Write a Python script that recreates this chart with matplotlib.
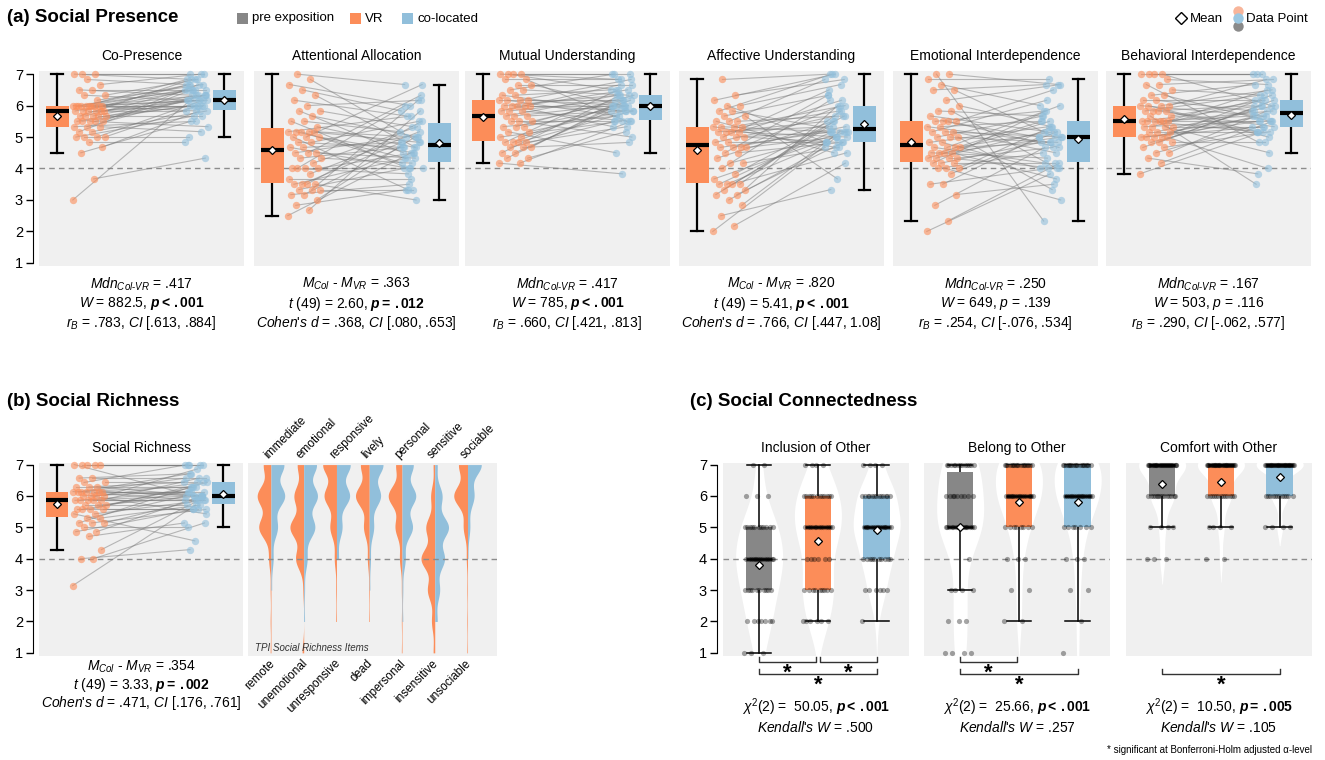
import numpy as np
import matplotlib.pyplot as plt
import matplotlib.transforms as mtransforms
from matplotlib.patches import Rectangle
from matplotlib.lines import Line2D

plt.rcParams['font.family'] = ['Liberation Sans', 'DejaVu Sans']
plt.rcParams['mathtext.fontset'] = 'custom'
plt.rcParams['mathtext.rm'] = 'Liberation Sans'
plt.rcParams['mathtext.it'] = 'Liberation Sans:italic'
plt.rcParams['mathtext.bf'] = 'Liberation Sans:bold'
plt.rcParams['mathtext.bfit'] = 'Liberation Sans:bold:italic'

# colours
c_pre = '#878787'
c_vr = '#fc8d59'
c_col = '#91bfdb'
c_bg = '#f0f0f0'

W, H = 1325, 760

# ---------------- (a) Social Presence, paired ratings (VR vs co-located), n = 50
sp_titles = ['Co-Presence', 'Attentional Allocation', 'Mutual Understanding',
             'Affective Understanding', 'Emotional Interdependence', 'Behavioral Interdependence']

copresence_vr = [3.0, 3.67, 4.5, 4.67, 4.83, 5.0, 5.0, 5.0, 5.0, 5.17, 5.17, 5.33, 5.33, 5.33, 5.5, 5.5, 5.5, 5.5, 5.5, 5.67,
                 5.67, 5.67, 5.67, 5.67, 5.83, 5.83, 5.83, 5.83, 5.83, 5.83, 6.0, 6.0, 6.0, 6.0, 6.0, 6.0, 6.0, 6.0, 6.0, 6.0,
                 6.17, 6.33, 6.33, 6.5, 6.5, 6.67, 6.83, 7.0, 7.0, 7.0]
copresence_col = [6.33, 4.33, 5.5, 5.83, 4.83, 5.67, 6.17, 5.0, 6.0, 5.83, 6.5, 5.17, 6.17, 5.5, 6.33, 6.0, 6.67, 5.33, 6.17, 5.67,
                  6.5, 6.0, 6.33, 6.83, 6.17, 5.83, 6.5, 6.0, 6.67, 6.33, 6.17, 6.5, 6.0, 6.83, 5.83, 6.33, 6.67, 6.17, 6.5, 6.0,
                  6.67, 6.17, 6.83, 6.5, 6.33, 7.0, 6.67, 6.83, 7.0, 7.0]

attention_vr = [2.5, 2.67, 2.83, 3.0, 3.17, 3.17, 3.33, 3.33, 3.33, 3.5, 3.5, 3.5, 3.5, 3.67, 3.83, 4.0, 4.0, 4.0, 4.0, 4.17,
                4.33, 4.33, 4.5, 4.5, 4.5, 4.67, 4.67, 4.83, 4.83, 5.0, 5.0, 5.0, 5.17, 5.17, 5.17, 5.17, 5.17, 5.33, 5.5, 5.5,
                5.67, 5.83, 5.83, 6.0, 6.17, 6.33, 6.5, 6.67, 6.83, 7.0]
attention_col = [4.5, 5.83, 3.33, 5.0, 4.67, 3.5, 6.17, 4.0, 3.33, 5.5, 4.33, 3.0, 4.83, 3.67, 5.17, 6.0, 4.5, 4.0, 3.83, 5.33,
                 4.67, 4.17, 6.33, 5.0, 4.33, 4.83, 4.0, 5.5, 4.67, 4.5, 6.67, 3.33, 5.0, 4.17, 5.67, 4.83, 4.33, 4.67, 5.17, 4.0,
                 5.0, 4.5, 5.33, 6.17, 5.67, 4.67, 5.83, 6.0, 4.83, 6.67]

mutual_vr = [4.17, 4.17, 4.33, 4.33, 4.5, 4.5, 4.67, 4.67, 4.67, 4.83, 4.83, 4.83, 4.83, 5.0, 5.0, 5.17, 5.17, 5.33, 5.33, 5.33,
             5.5, 5.5, 5.5, 5.67, 5.67, 5.67, 5.83, 5.83, 5.83, 6.0, 6.0, 6.0, 6.0, 6.0, 6.17, 6.17, 6.17, 6.17, 6.33, 6.33,
             6.5, 6.5, 6.67, 6.67, 6.83, 6.83, 7.0, 7.0, 7.0, 7.0]
mutual_col = [3.83, 5.5, 6.0, 5.17, 5.83, 6.33, 4.83, 5.5, 6.17, 5.83, 6.5, 5.33, 6.0, 5.5, 6.17, 4.5, 5.83, 6.33, 5.67, 6.0,
              5.5, 6.17, 5.0, 6.33, 5.83, 6.0, 6.67, 5.5, 6.17, 6.0, 5.83, 6.33, 6.5, 5.33, 6.17, 6.83, 5.67, 6.0, 6.5, 5.83,
              6.33, 7.0, 6.0, 6.67, 6.83, 5.5, 7.0, 6.83, 7.0, 6.5]

affective_vr = [2.0, 2.17, 2.5, 2.83, 3.0, 3.17, 3.17, 3.33, 3.33, 3.5, 3.5, 3.5, 3.5, 3.67, 3.83, 4.0, 4.17, 4.17, 4.33, 4.5,
                4.5, 4.67, 4.67, 4.67, 4.67, 4.83, 4.83, 5.0, 5.0, 5.0, 5.17, 5.17, 5.17, 5.17, 5.33, 5.33, 5.33, 5.33, 5.5, 5.5,
                5.5, 5.67, 5.67, 5.83, 5.83, 6.0, 6.0, 6.17, 6.33, 6.83]
affective_col = [5.0, 4.17, 3.33, 5.17, 4.67, 5.5, 4.83, 5.33, 6.0, 4.5, 5.17, 5.83, 4.83, 5.0, 5.67, 6.17, 4.67, 5.17, 5.5, 4.83,
                 6.33, 5.0, 5.33, 5.17, 6.0, 4.83, 5.67, 5.17, 6.5, 4.83, 5.0, 5.33, 6.17, 5.5, 4.67, 6.0, 5.17, 5.83, 6.83, 4.5,
                 5.67, 6.33, 3.67, 5.17, 7.0, 6.67, 4.83, 7.0, 6.83, 7.0]

emotional_vr = [2.0, 2.33, 2.83, 3.17, 3.5, 3.5, 3.83, 4.0, 4.0, 4.0, 4.17, 4.17, 4.17, 4.33, 4.33, 4.33, 4.33, 4.5, 4.5, 4.5,
                4.5, 4.67, 4.67, 4.67, 4.67, 4.83, 4.83, 5.0, 5.0, 5.0, 5.17, 5.17, 5.17, 5.33, 5.33, 5.5, 5.5, 5.5, 5.5, 5.67,
                5.83, 5.83, 6.0, 6.17, 6.5, 6.5, 6.67, 6.83, 7.0, 7.0]
emotional_col = [3.83, 4.17, 4.67, 3.5, 5.0, 4.0, 5.17, 4.5, 5.33, 3.0, 5.83, 4.17, 4.83, 5.5, 4.0, 5.17, 4.67, 5.0, 4.33, 3.67,
                 5.5, 4.83, 6.0, 4.17, 5.17, 4.0, 5.33, 4.83, 5.67, 3.33, 5.0, 6.17, 4.5, 5.5, 4.83, 4.67, 5.83, 6.5, 5.0, 5.17,
                 4.0, 5.67, 5.33, 6.67, 6.67, 5.0, 6.0, 6.83, 6.67, 2.33]

behavioral_vr = [3.83, 4.17, 4.33, 4.5, 4.5, 4.67, 4.67, 4.83, 4.83, 4.83, 5.0, 5.0, 5.0, 5.0, 5.0, 5.17, 5.17, 5.17, 5.33, 5.33,
                 5.33, 5.33, 5.5, 5.5, 5.5, 5.5, 5.5, 5.5, 5.67, 5.67, 5.83, 5.83, 5.83, 5.83, 6.0, 6.0, 6.0, 6.0, 6.17, 6.17,
                 6.33, 6.33, 6.5, 6.67, 6.67, 6.83, 7.0, 7.0, 7.0, 7.0]
behavioral_col = [5.17, 5.5, 3.83, 5.83, 5.33, 6.0, 5.17, 5.67, 4.83, 6.17, 5.5, 4.0, 5.83, 5.33, 6.33, 5.17, 5.67, 6.0, 5.5, 4.5,
                  6.17, 5.33, 5.83, 5.17, 6.5, 5.67, 6.0, 5.5, 3.5, 6.17, 5.33, 6.33, 5.0, 6.0, 5.67, 6.5, 5.17, 6.83, 5.83, 6.17,
                  5.5, 6.67, 6.33, 6.83, 4.83, 6.67, 7.0, 7.0, 6.0, 7.0]

P_LT = r'$\mathbfit{p}\mathbf{<}\,\mathbf{.001}$'
sp_stats = [
    [r'$\mathit{Mdn}_{\mathit{Col}\text{-}\mathit{VR}}$ = .417', r'$\mathit{W}$ = 882.5, ' + P_LT,
     r'$\mathit{r}_{\mathit{B}}$ = .783, $\mathit{CI}$ [.613, .884]'],
    [r'$\mathit{M}_{\mathit{Col}}$ - $\mathit{M}_{\mathit{VR}}$ = .363',
     r'$\mathit{t}$ $\mathit{(49)}$ = 2.60, $\mathbfit{p}\mathbf{=}\,\mathbf{.012}$',
     r"$\mathit{Cohen}$'$\mathit{s}$ $\mathit{d}$ = .368, $\mathit{CI}$ [.080, .653]"],
    [r'$\mathit{Mdn}_{\mathit{Col}\text{-}\mathit{VR}}$ = .417', r'$\mathit{W}$ = 785, ' + P_LT,
     r'$\mathit{r}_{\mathit{B}}$ = .660, $\mathit{CI}$ [.421, .813]'],
    [r'$\mathit{M}_{\mathit{Col}}$ - $\mathit{M}_{\mathit{VR}}$ = .820', r'$\mathit{t}$ $\mathit{(49)}$ = 5.41, ' + P_LT,
     r"$\mathit{Cohen}$'$\mathit{s}$ $\mathit{d}$ = .766, $\mathit{CI}$ [.447, 1.08]"],
    [r'$\mathit{Mdn}_{\mathit{Col}\text{-}\mathit{VR}}$ = .250', r'$\mathit{W}$ = 649, $\mathit{p}$ = .139',
     r'$\mathit{r}_{\mathit{B}}$ = .254, $\mathit{CI}$ [-.076, .534]'],
    [r'$\mathit{Mdn}_{\mathit{Col}\text{-}\mathit{VR}}$ = .167', r'$\mathit{W}$ = 503, $\mathit{p}$ = .116',
     r'$\mathit{r}_{\mathit{B}}$ = .290, $\mathit{CI}$ [-.062, .577]'],
]

# ---------------- (b) Social Richness
richness_vr = [3.14, 4.0, 4.0, 4.29, 4.71, 4.86, 4.86, 5.0, 5.14, 5.14, 5.14, 5.29, 5.29, 5.43, 5.43, 5.57, 5.57, 5.57, 5.57, 5.71,
               5.71, 5.71, 5.86, 5.86, 5.86, 5.86, 5.86, 6.0, 6.0, 6.0, 6.0, 6.14, 6.14, 6.14, 6.14, 6.14, 6.14, 6.14, 6.29, 6.29,
               6.29, 6.43, 6.43, 6.57, 6.57, 7.0, 7.0, 7.0, 7.0, 7.0]
richness_col = [5.71, 5.14, 4.29, 5.86, 5.14, 5.57, 6.0, 5.0, 5.86, 5.57, 6.29, 5.71, 6.0, 4.57, 5.86, 6.14, 5.57, 6.43, 5.57, 6.0,
                5.71, 6.29, 5.86, 6.14, 6.57, 5.86, 6.0, 6.43, 6.14, 6.86, 5.43, 6.29, 6.0, 6.57, 5.86, 6.14, 6.71, 6.0, 6.43, 6.29,
                6.0, 7.0, 6.43, 6.57, 6.71, 7.0, 7.0, 6.0, 7.0, 7.0]
richness_stats = [r'$\mathit{M}_{\mathit{Col}}$ - $\mathit{M}_{\mathit{VR}}$ = .354',
                  r'$\mathit{t}$ $\mathit{(49)}$ = 3.33, $\mathbfit{p}\mathbf{=}\,\mathbf{.002}$',
                  r"$\mathit{Cohen}$'$\mathit{s}$ $\mathit{d}$ = .471, $\mathit{CI}$ [.176, .761]"]

# TPI items: answer counts for levels 1..7
tpi_top = ['immediate', 'emotional', 'responsive', 'lively', 'personal', 'sensitive', 'sociable']
tpi_bottom = ['remote', 'unemotional', 'unresponsive', 'dead', 'impersonal', 'insensitive', 'unsociable']
tpi_vr = [[1, 1, 1, 3, 16, 18, 10], [2, 0, 1, 10, 17, 12, 8], [0, 1, 1, 3, 9, 17, 19], [0, 1, 1, 3, 9, 22, 14],
          [1, 1, 1, 4, 11, 22, 10], [2, 4, 9, 17, 11, 5, 2], [1, 1, 1, 2, 7, 23, 15]]
tpi_col = [[0, 0, 1, 3, 9, 19, 18], [0, 1, 1, 4, 13, 16, 15], [0, 0, 0, 3, 8, 19, 20], [0, 0, 1, 2, 7, 18, 22],
           [0, 1, 1, 4, 13, 17, 14], [0, 3, 6, 12, 17, 9, 3], [0, 0, 0, 1, 5, 14, 30]]

# ---------------- (c) Social Connectedness: answer counts for levels 1..7
sc_titles = ['Inclusion of Other', 'Belong to Other', 'Comfort with Other']
inclusion_pre = [3, 7, 10, 14, 11, 3, 2]
inclusion_vr = [0, 6, 9, 6, 13, 12, 4]
inclusion_col = [0, 1, 6, 10, 16, 13, 4]
belong_pre = [4, 3, 4, 1, 16, 9, 13]
belong_vr = [0, 2, 2, 3, 8, 17, 18]
belong_col = [1, 1, 2, 3, 7, 17, 19]
comfort_pre = [0, 0, 0, 3, 4, 14, 29]
comfort_vr = [0, 0, 0, 2, 4, 13, 31]
comfort_col = [0, 0, 0, 0, 4, 12, 34]
sc_stats = [
    [r'$\chi^2\mathit{(2)}$ =  50.05, ' + P_LT, r"$\mathit{Kendall}$'$\mathit{s}$ $\mathit{W}$ = .500"],
    [r'$\chi^2\mathit{(2)}$ =  25.66, ' + P_LT, r"$\mathit{Kendall}$'$\mathit{s}$ $\mathit{W}$ = .257"],
    [r'$\chi^2\mathit{(2)}$ =  10.50, $\mathbfit{p}\mathbf{=}\,\mathbf{.005}$',
     r"$\mathit{Kendall}$'$\mathit{s}$ $\mathit{W}$ = .105"],
]
# significant pairwise comparisons: (group a, group b, row)
sc_pairs = [[(1, 2, 0), (2, 3, 0), (1, 3, 1)], [(1, 2, 0), (1, 3, 1)], [(1, 3, 1)]]


fig = plt.figure(figsize=(W / 100, H / 100), dpi=100)


def rect(x0, y0, x1, y1):
    return [x0 / W, 1 - y1 / H, (x1 - x0) / W, (y1 - y0) / H]


def ftext(x, y, s, **kw):
    fig.text(x / W, 1 - y / H, s, **kw)


def below(ax, s, px, size=10):
    ax.annotate(s, xy=(0.5, 0), xycoords='axes fraction', xytext=(0, -px * 0.72),
                textcoords='offset points', ha='center', va='center', fontsize=size)


def clean(ax):
    ax.set_xticks([])
    ax.set_yticks([])
    for s in ax.spines.values():
        s.set_visible(False)


def add_yaxis(ax):
    sp = ax.spines['left']
    sp.set_visible(True)
    sp.set_position(('outward', 4.5))
    sp.set_bounds(1, 7)
    ax.set_yticks(range(1, 8))
    ax.tick_params(axis='y', length=5, width=1, labelsize=10.5, pad=2)


def paired_panel(ax, vr, col, title, stats, stat_px, ylim):
    vr = np.asarray(vr)
    col = np.asarray(col)
    k = np.arange(len(vr))
    x_vr = 1.65 + 1.65 * ((k * 0.618034) % 1)
    x_col = 7.1 + 1.15 * ((k * 0.381966 + 0.5) % 1)
    ax.set_facecolor(c_bg)
    ax.axhline(4, color='#8c8c8c', lw=1, ls=(0, (4, 3)), zorder=1)
    for i in range(len(vr)):
        ax.plot([x_vr[i], x_col[i]], [vr[i], col[i]], color='#7a7a7a', lw=0.8, alpha=0.5, zorder=2)
    ax.scatter(x_vr, vr, s=28, color=c_vr, alpha=0.6, lw=0, zorder=3, clip_on=False)
    ax.scatter(x_col, col, s=28, color=c_col, alpha=0.6, lw=0, zorder=3, clip_on=False)
    bp = ax.boxplot([vr, col], positions=[0.88, 9.04], widths=1.12, patch_artist=True,
                    showfliers=False, showmeans=True, capwidths=0.55,
                    medianprops=dict(color='black', linewidth=3, zorder=5),
                    whiskerprops=dict(color='black', linewidth=1.6),
                    capprops=dict(color='black', linewidth=1.6),
                    meanprops=dict(marker='D', markerfacecolor='white', markeredgecolor='black',
                                   markersize=4, markeredgewidth=0.9, zorder=6))
    for patch, c in zip(bp['boxes'], [c_vr, c_col]):
        patch.set_facecolor(c)
        patch.set_edgecolor('none')
        patch.set_zorder(4)
    ax.set_xlim(0, 10)
    ax.set_ylim(*ylim)
    clean(ax)
    ax.set_title(title, fontsize=10, pad=8)
    for s, px in zip(stats, stat_px):
        below(ax, s, px)


# ---- titles and legends
ftext(7, 18, '(a) Social Presence', fontsize=13.5, fontweight='bold', va='center')
ftext(7, 402, '(b) Social Richness', fontsize=13.5, fontweight='bold', va='center')
ftext(690, 402, '(c) Social Connectedness', fontsize=13.5, fontweight='bold', va='center')

for x, c, lab in [(237, c_pre, 'pre exposition'), (350, c_vr, 'VR'), (402, c_col, 'co-located')]:
    fig.add_artist(Rectangle((x / W, 1 - 24 / H), 11 / W, 11 / H, transform=fig.transFigure,
                             facecolor=c, edgecolor='none'))
    ftext(x + 15, 18.5, lab, fontsize=9.5, va='center')

fig.add_artist(Line2D([1181 / W], [1 - 18 / H], marker='D', markersize=6, markerfacecolor='white',
                      markeredgecolor='black', markeredgewidth=1, transform=fig.transFigure))
ftext(1190, 18.5, 'Mean', fontsize=9.5, va='center')
for y, c in [(11, '#f8b59a'), (26, '#8a8a8a'), (18, '#9cc8e2')]:
    fig.add_artist(Line2D([1238 / W], [1 - y / H], marker='o', markersize=7.5, markerfacecolor=c,
                          markeredgecolor='none', transform=fig.transFigure))
ftext(1246, 18.5, 'Data Point', fontsize=9.5, va='center')

# ---- (a)
sp_vr = [copresence_vr, attention_vr, mutual_vr, affective_vr, emotional_vr, behavioral_vr]
sp_col = [copresence_col, attention_col, mutual_col, affective_col, emotional_col, behavioral_col]
a_left = [39, 254, 465, 679, 893, 1106]
for i in range(6):
    ax = fig.add_axes(rect(a_left[i], 71, a_left[i] + 205, 266))
    paired_panel(ax, sp_vr[i], sp_col[i], sp_titles[i], sp_stats[i], [18, 38, 57], (0.9, 7.1))
    if i == 0:
        add_yaxis(ax)

# ---- (b) social richness
ax = fig.add_axes(rect(39, 463, 243, 656))
paired_panel(ax, richness_vr, richness_col, 'Social Richness', richness_stats, [11, 29, 47], (0.9, 7.05))
add_yaxis(ax)

ax = fig.add_axes(rect(248, 463, 497, 656))
ax.set_facecolor(c_bg)
ax.axhline(4, color='#8c8c8c', lw=1, ls=(0, (4, 3)), zorder=3)
levels = np.arange(1, 8)
for i in range(7):
    pos = i + 1
    for counts, color, side in [(tpi_vr[i], c_vr, -1), (tpi_col[i], c_col, 1)]:
        vals = np.repeat(levels, counts)
        yy = np.linspace(vals.min(), vals.max(), 300)
        dens = np.exp(-0.5 * ((yy[:, None] - vals[None, :]) / 0.34) ** 2).sum(1)
        dens = dens / dens.max() * 0.42
        ax.fill_betweenx(yy, pos, pos + side * dens, color=color, lw=0, zorder=2)
    ax.text(pos - 0.15, 7.25, tpi_top[i], rotation=45, rotation_mode='anchor', ha='left', va='center',
            fontsize=8.5, clip_on=False)
    ax.text(pos + 0.05, 0.72, tpi_bottom[i], rotation=45, rotation_mode='anchor', ha='right', va='center',
            fontsize=8.5, clip_on=False)
ax.text(7 / 249, 8 / 193, 'TPI Social Richness Items', transform=ax.transAxes, fontsize=7,
        fontstyle='italic', color='#333333', va='center')
ax.set_xlim(0.3, 7.9)
ax.set_ylim(0.9, 7.05)
clean(ax)

# ---- (c) social connectedness
sc_counts = [[inclusion_pre, inclusion_vr, inclusion_col],
             [belong_pre, belong_vr, belong_col],
             [comfort_pre, comfort_vr, comfort_col]]
c_left = [723, 924, 1126]
ax_h = 193
for p in range(3):
    ax = fig.add_axes(rect(c_left[p], 463, c_left[p] + 186, 656))
    ax.set_facecolor(c_bg)
    ax.axhline(4, color='#8c8c8c', lw=1, ls=(0, (4, 3)), zorder=2)
    for j, (counts, color) in enumerate(zip(sc_counts[p], [c_pre, c_vr, c_col])):
        pos = j + 1
        vals = np.repeat(levels, counts).astype(float)
        bw = vals.std(ddof=1) * len(vals) ** (-0.2)
        yy = np.linspace(vals.min() - 2 * bw, vals.max() + 2 * bw, 300)
        dens = np.exp(-0.5 * ((yy[:, None] - vals[None, :]) / bw) ** 2).sum(1)
        dens = dens / dens.max() * 0.4
        ax.fill_betweenx(yy, pos - dens, pos + dens, color='white', lw=0, zorder=1)
        bp = ax.boxplot([vals], positions=[pos], widths=0.45, patch_artist=True, showfliers=False,
                        showmeans=True, capwidths=0.42,
                        medianprops=dict(color='black', linewidth=1.8, zorder=5),
                        whiskerprops=dict(color='black', linewidth=1.1),
                        capprops=dict(color='black', linewidth=1.1),
                        meanprops=dict(marker='D', markerfacecolor='white', markeredgecolor='black',
                                       markersize=4, markeredgewidth=0.9, zorder=7))
        bp['boxes'][0].set_facecolor(color)
        bp['boxes'][0].set_edgecolor('none')
        bp['boxes'][0].set_zorder(3)
        k = np.arange(len(vals))
        xs = pos + 0.25 * (2 * ((k * 0.618034) % 1) - 1)
        ax.scatter(xs, vals, s=14, color='black', alpha=0.35, lw=0, zorder=6, clip_on=False)
    ax.set_xlim(0.385, 3.55)
    ax.set_ylim(0.9, 7.05)
    clean(ax)
    if p == 0:
        add_yaxis(ax)
    ax.set_title(sc_titles[p], fontsize=10, pad=8)
    trans = mtransforms.blended_transform_factory(ax.transData, ax.transAxes)
    for a, b, row in sc_pairs[p]:
        x1 = a + (0.03 if (a == 2) else 0)
        x2 = b - (0.03 if (b == 2) else 0)
        yl = -(6 + 12 * row) / ax_h
        yt = -(1 + 12 * row) / ax_h
        ax.plot([x1, x1, x2, x2], [yt, yl, yl, yt], color='#333333', lw=1, transform=trans, clip_on=False)
        ax.text((x1 + x2) / 2, yl - 0.5 / ax_h, '*', transform=trans, ha='center', va='top', fontsize=16,
                fontweight='bold', clip_on=False)
    below(ax, sc_stats[p][0], 51)
    below(ax, sc_stats[p][1], 71)

ftext(1312, 750, '* significant at Bonferroni-Holm adjusted \u03b1-level', fontsize=7, ha='right', va='center')

fig.savefig('out.png', dpi=100)
